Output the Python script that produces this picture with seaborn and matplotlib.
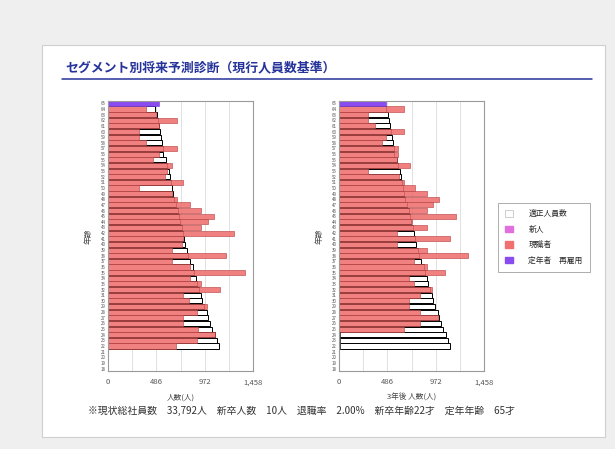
import pandas as pd
import matplotlib
matplotlib.use("Agg")
import matplotlib.pyplot as plt
from matplotlib.patches import Rectangle, Patch
from matplotlib.lines import Line2D
from matplotlib.ticker import MultipleLocator
import seaborn as sns

sns.set_theme(style="white")
plt.rcParams['font.family'] = ['Noto Sans CJK JP', 'DejaVu Sans']

# Ages, top (65) to bottom (18)
ages = list(range(65, 17, -1))

# 適正人員数 (same standard for both panels)
target = [0, 477, 490, 505, 510, 520, 530, 542, 550, 558,
          585, 595, 610, 625, 635, 640, 650, 665, 680, 700,
          715, 725, 740, 752, 765, 770, 790, 805, 820, 850,
          865, 882, 898, 915, 940, 950, 964, 1000, 1010, 1030,
          1046, 1079, 1095, 1112, 0, 0, 0, 0]

# 現在の人員
current_staff = [0, 378, 480, 690, 510, 312, 312, 378, 690, 510,
                 450, 640, 595, 575, 755, 312, 640, 690, 822, 937,
                 1069, 1003, 937, 1262, 757, 745, 645, 1190, 645, 820,
                 1380, 825, 935, 1130, 750, 815, 1000, 890, 750, 750,
                 900, 1075, 890, 685, 0, 0, 0, 0]
current_rehire = [510] + [0] * 47
current_new = [0] * 48

# 3年後の人員
future_staff = [0, 655, 293, 296, 362, 655, 477, 428, 590, 590,
                580, 710, 293, 608, 655, 760, 885, 1010, 950, 888,
                1180, 730, 885, 588, 1112, 585, 882, 1293, 750, 882,
                1063, 700, 750, 931, 816, 700, 700, 816, 997, 816,
                651, 0, 0, 0, 0, 0, 0, 0]
future_rehire = [477] + [0] * 47
future_new = [0] * 41 + [10, 10, 10] + [0] * 4

x_ticks = [0, 486, 972, 1458]
x_tick_labels = ["0", "486", "972", "1,458"]

title = "セグメント別将来予測診断（現行人員数基準）"
note = ("※現状総社員数　33,792人　新卒人数　10人　退職率　2.00%　"
        "新卒年齢22才　定年年齢　65才")

C_TARGET = "white"
C_NEW = "#e070e0"
C_STAFF = "#f07070"
C_REHIRE = "#8a4cf0"
NAVY = "#25339a"

W, H = 615, 449
fig = plt.figure(figsize=(W / 100, H / 100), dpi=100)
fig.patch.set_facecolor("#efefef")
fig.patches.append(Rectangle((42 / W, 1 - 437 / H), (605 - 42) / W, (437 - 45) / H,
                             transform=fig.transFigure, facecolor="white",
                             edgecolor="#cfcfcf", lw=0.8, zorder=-5))

fig.text(65 / W, 1 - 68 / H, title, fontsize=9.3, color=NAVY,
         weight="bold", va="center", ha="left")
fig.add_artist(Line2D([62 / W, 592 / W], [1 - 79 / H, 1 - 79 / H],
                      transform=fig.transFigure, color=NAVY, lw=1.1))

order = [str(a) for a in ages]


def layer(ax, values, color, edge, lw, alpha=1.0):
    df = pd.DataFrame({"age": order, "v": values})
    df = df[df["v"] > 0]
    sns.barplot(data=df, x="v", y="age", order=order, orient="h",
                color=color, edgecolor=edge, linewidth=lw, width=0.9,
                saturation=1, alpha=alpha, errorbar=None, ax=ax)


def panel(left, staff, new, rehire, xlabel):
    ax = fig.add_axes([left / W, 1 - 371.4 / H, 145 / W, 270.9 / H])
    ax.set_zorder(2)
    layer(ax, target, C_TARGET, "black", 0.7)
    layer(ax, staff, C_STAFF, "#b84545", 0.5, alpha=0.88)
    layer(ax, new, C_NEW, "#333333", 0.6)
    layer(ax, rehire, C_REHIRE, "#6a3ad0", 0.4)
    ax.set_xlim(0, 1458)
    ax.set_xticks(x_ticks)
    ax.set_xticklabels(x_tick_labels)
    ax.xaxis.set_minor_locator(MultipleLocator(243))
    ax.grid(axis="x", which="both", color="#dcdcdc", lw=0.6)
    ax.set_axisbelow(True)
    ax.tick_params(axis="x", labelsize=5.5, colors="#555555", length=0, pad=5)
    ax.tick_params(axis="y", labelsize=3.2, colors="#555555", length=0, pad=1.5)
    ax.set_xlabel(xlabel, fontsize=5.5, color="#444444", labelpad=5)
    ax.set_ylabel("年齢", fontsize=5.5, color="#444444", labelpad=6)
    for s in ax.spines.values():
        s.set_color("#9a9a9a")
        s.set_linewidth(0.8)
    return ax


panel(108, current_staff, current_new, current_rehire, "人数(人)")
panel(339, future_staff, future_new, future_rehire, "3年後 人数(人)")

handles = [Patch(facecolor=C_TARGET, edgecolor="#bbbbbb", lw=0.5),
           Patch(facecolor=C_NEW, edgecolor=C_NEW),
           Patch(facecolor=C_STAFF, edgecolor=C_STAFF),
           Patch(facecolor=C_REHIRE, edgecolor=C_REHIRE)]
labels = ["適正人員数", "新人", "現職者", "定年者　再雇用"]
leg = fig.legend(handles, labels, loc="upper left",
                 bbox_to_anchor=(498 / W, 1 - 203 / H), fontsize=5.6,
                 frameon=True, fancybox=False, labelspacing=0.95,
                 handlelength=1.0, handleheight=0.9, handletextpad=2.0,
                 borderpad=0.9, borderaxespad=0)
leg.get_frame().set_edgecolor("#888888")
leg.get_frame().set_linewidth(0.6)
leg.set_zorder(3)

fig.text(88 / W, 1 - 411 / H, note, fontsize=7.1, color="#333333",
         va="center", ha="left")

fig.savefig("out.png", dpi=100, facecolor=fig.get_facecolor())
